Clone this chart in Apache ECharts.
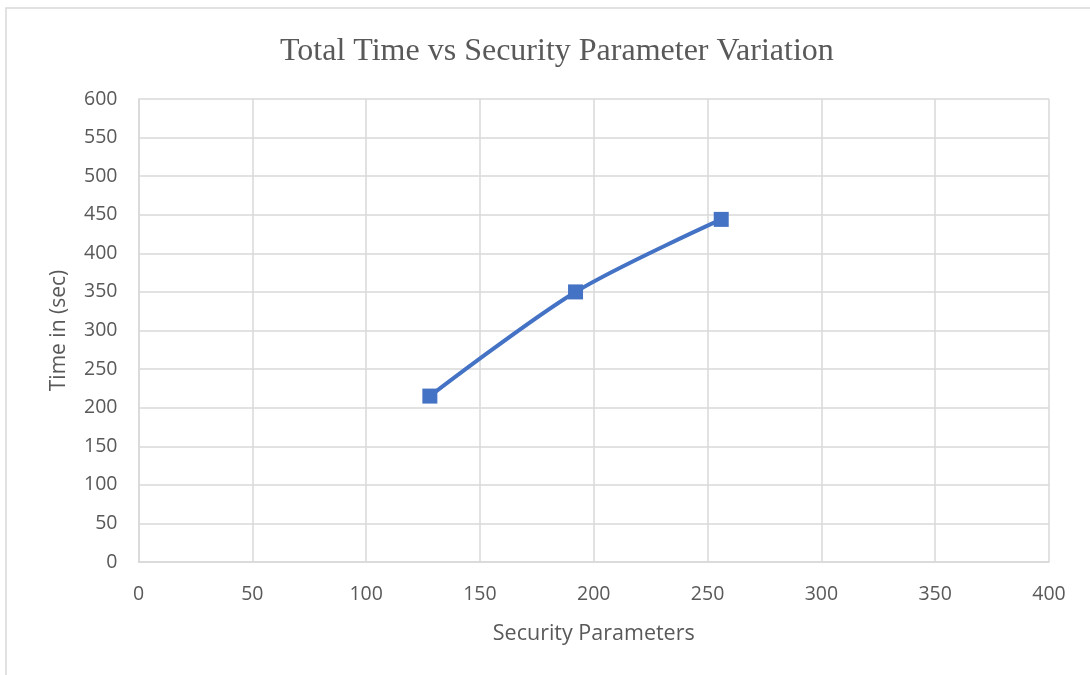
<!DOCTYPE html>
<html><head><meta charset="utf-8">
<script src="https://cdn.jsdelivr.net/npm/echarts@6/dist/echarts.min.js"></script>
<style>html,body{margin:0;padding:0;background:#fff}#c{width:1090px;height:675px}</style>
</head><body><div id="c"></div>
<script>
const securityParams = [128, 192, 256];
const totalTimes = [215, 350, 444];
const chartTitle = 'Total Time vs Security Parameter Variation';
const xName = 'Security Parameters';
const yName = 'Time in (sec)';

const chart = echarts.init(document.getElementById('c'), null, {renderer: 'canvas'});
const lab = {color: '#595959', fontFamily: 'Open Sans', fontSize: 19.5};
chart.setOption({
  animation: false,
  graphic: [{type: 'rect', shape: {x: 6, y: 8, width: 1200, height: 800}, style: {fill: 'none', stroke: '#d9d9d9', lineWidth: 1.5}}],
  title: {text: chartTitle, left: 275, top: 31, textStyle: {fontFamily: 'Liberation Serif', fontWeight: 'normal', fontSize: 32, color: '#595959'}},
  grid: {left: 138.5, right: 41, top: 99, bottom: 113},
  xAxis: {type: 'value', min: 0, max: 400, interval: 50, name: xName, nameLocation: 'middle', nameGap: 61,
    nameTextStyle: {color: '#595959', fontFamily: 'Open Sans', fontSize: 21.5},
    axisLine: {show: true, lineStyle: {color: '#d9d9d9', width: 1.5}}, axisTick: {show: false},
    axisLabel: Object.assign({margin: 22}, lab),
    splitLine: {show: true, lineStyle: {color: '#d9d9d9', width: 1.5}}},
  yAxis: {type: 'value', min: 0, max: 600, interval: 50, name: yName, nameLocation: 'middle', nameGap: 69,
    nameTextStyle: {color: '#595959', fontFamily: 'Open Sans', fontSize: 21},
    axisLine: {show: true, lineStyle: {color: '#d9d9d9', width: 1.5}}, axisTick: {show: false},
    axisLabel: Object.assign({margin: 21}, lab),
    splitLine: {show: true, lineStyle: {color: '#d9d9d9', width: 1.5}}},
  series: [{type: 'line', data: securityParams.map((x, i) => [x, totalTimes[i]]), smooth: 0.3,
    symbol: 'rect', symbolSize: 15, lineStyle: {color: '#4472c4', width: 4},
    itemStyle: {color: '#4472c4'}}]
});
</script></body></html>
